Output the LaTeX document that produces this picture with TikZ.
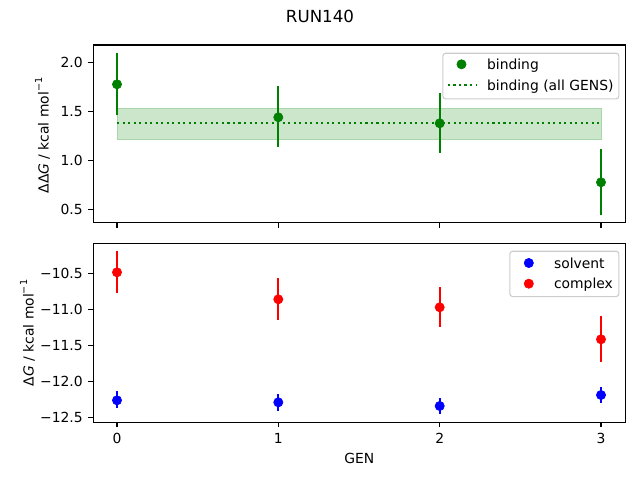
\documentclass[tikz,border=0pt]{standalone}
\usepackage{fontspec}
\setmainfont{DejaVu Sans}
\definecolor{mplgreen}{RGB}{0,128,0}
\definecolor{mplblue}{RGB}{0,0,255}
\definecolor{mplred}{RGB}{255,0,0}
\definecolor{bandfill}{RGB}{204,230,204}
\definecolor{bandedge}{RGB}{170,212,170}
\definecolor{legedge}{RGB}{204,204,204}
\newcommand{\supm}[1]{\raisebox{0.85ex}{\fontsize{7}{8}\selectfont #1}}
\tikzset{
  axisframe/.style={draw=black,line width=0.8pt},
  tickmark/.style={draw=black,line width=0.8pt},
  ylab/.style={anchor=east,inner sep=0pt,font=\fontsize{10}{12}\selectfont},
  xlab/.style={anchor=north,inner sep=0pt,font=\fontsize{10}{12}\selectfont},
  errbar/.style={line width=1.5pt},
  dotmark/.style={fill=#1,draw=#1,line width=0.5pt},
  legbox/.style={draw=legedge,line width=0.8pt,fill=white,fill opacity=0.8,rounded corners=2pt},
  legtext/.style={anchor=base west,inner sep=0pt,font=\fontsize{10}{12}\selectfont},
  axtitle/.style={inner sep=0pt,font=\fontsize{10}{12}\selectfont},
}
\begin{document}
\begin{tikzpicture}[x=0.72pt,y=-0.72pt]
\useasboundingbox (0,0) rectangle (640,480);
% title
\node[inner sep=0pt,font=\fontsize{12}{14}\selectfont] (title) at (320,16) {RUN140};

% ---------- top panel ----------
\fill[bandfill] (117,108) rectangle (601,139.3);
\draw[bandedge,line width=0.7pt] (117,108) rectangle (601,139.3);
\coordinate (dl) at (117,122.7);
\coordinate (dr) at (601,122.7);
\draw[mplgreen,line width=1.5pt,dash pattern=on 1.5pt off 2.475pt] (dl) -- (dr);
% binding points
\foreach \x/\y/\a/\b in {117/84.3/53.3/114.7, 278.3/117.3/86/146.7, 439.7/123.3/93.3/152.7, 601/182.3/149/215}{
  \draw[mplgreen,errbar] (\x,\a) -- (\x,\b);
  \draw[dotmark=mplgreen] (\x,\y) circle[radius=3.3pt];
}
\draw[axisframe] (93.3,45) rectangle (625.3,222.7);
% ticks top
\foreach \x in {117,278.3,439.7,601}{ \draw[tickmark] (\x,222.7) -- (\x,227.6); }
\foreach \y/\t in {62.3/2.0, 111.3/1.5, 160.3/1.0, 209.3/0.5}{
  \draw[tickmark] (93.3,\y) -- (88.4,\y);
  \node[ylab] at (83,\y) {\t};
}
\node[axtitle,rotate=90,anchor=base] (ylabtop) at (48.5,135.5) {ΔΔ\textit{G} / kcal mol\supm{−1}};
% legend top
\node[legbox,minimum width=176*0.72pt,minimum height=45.6*0.72pt,anchor=north west] (leg1) at (442.3,52.7) {};
\draw[dotmark=mplgreen] (461.5,64.3) circle[radius=3.3pt];
\coordinate (l1a) at (447.9,85);
\coordinate (l1b) at (475.7,85);
\draw[mplgreen,line width=1.5pt,dash pattern=on 1.5pt off 2.475pt] (l1a) -- (l1b);
\node[legtext] (lt1) at (486.8,69.3) {binding};
\node[legtext] (lt2) at (486.8,90) {binding (all GENS)};

% ---------- bottom panel ----------
\foreach \x/\y/\a/\b in {117/272.3/250.7/292.7, 278.3/299.3/277.7/320, 439.7/307.3/287.3/326.7, 601/339.3/316/361.7}{
  \draw[mplred,errbar] (\x,\a) -- (\x,\b);
  \draw[dotmark=mplred] (\x,\y) circle[radius=3.3pt];
}
\foreach \x/\y/\a/\b in {117/400.3/391/407.7, 278.3/402.3/394/410.7, 439.7/406/398/413.7, 601/395/387/403}{
  \draw[mplblue,errbar] (\x,\a) -- (\x,\b);
  \draw[dotmark=mplblue] (\x,\y) circle[radius=3.3pt];
}
\draw[axisframe] (93.3,243.3) rectangle (625.3,422.3);
\foreach \x/\t in {117/0,278.3/1,439.7/2,601/3}{
  \draw[tickmark] (\x,422.3) -- (\x,427.2);
  \node[xlab] at (\x,433) {\t};
}
\foreach \y/\t in {273.7/−10.5, 309.6/−11.0, 345.5/−11.5, 381.4/−12.0, 417.3/−12.5}{
  \draw[tickmark] (93.3,\y) -- (88.4,\y);
  \node[ylab] at (83,\y) {\t};
}
\node[axtitle,rotate=90,anchor=base] (ylabbot) at (33.5,333) {Δ\textit{G} / kcal mol\supm{−1}};
\node[xlab] (genlab) at (359.3,452.7) {GEN};
% legend bottom
\node[legbox,minimum width=109*0.72pt,minimum height=45.3*0.72pt,anchor=north west] (leg2) at (509.3,250.7) {};
\draw[dotmark=mplblue] (528.8,263) circle[radius=3.3pt];
\draw[dotmark=mplred] (528.8,283.7) circle[radius=3.3pt];
\node[legtext] (lt3) at (553.8,268) {solvent};
\node[legtext] (lt4) at (553.8,288.7) {complex};
\end{tikzpicture}
\end{document}
